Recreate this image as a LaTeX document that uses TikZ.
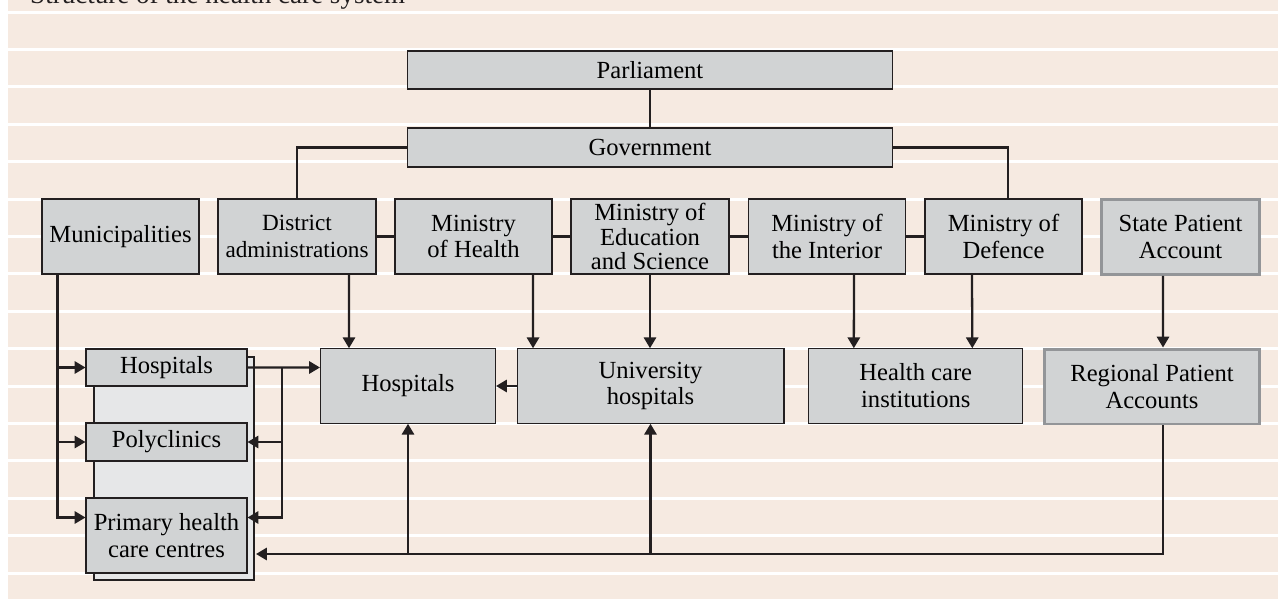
\documentclass[tikz,border=0pt]{standalone}
\usepackage{fontspec}
\setmainfont{Liberation Serif}
\usetikzlibrary{arrows.meta}
\definecolor{bgbeige}{HTML}{F6EAE1}
\definecolor{boxgray}{HTML}{D1D3D4}
\definecolor{panelgray}{HTML}{E6E7E8}
\definecolor{inkdark}{HTML}{231F20}
\definecolor{accgray}{HTML}{939598}
\begin{document}
\begin{tikzpicture}[x=0.02cm, y=-0.02cm,
  box/.style={draw=inkdark, line width=0.6pt, fill=boxgray, align=center, inner sep=0pt,
    font=\fontsize{14}{15.3}\selectfont},
  accbox/.style={box, draw=accgray, line width=1.7pt},
  link/.style={draw=inkdark, line width=1.3pt},
  arr/.style={link, -{Triangle[length=6.2pt, width=7pt]}}]
\useasboundingbox (0,0) rectangle (1278,599);
\fill[bgbeige] (8,0) rectangle (1278,599);
\foreach \k in {0,...,15}{
  \pgfmathsetmacro{\yy}{12+37.4*\k}
  \draw[white, line width=0.06cm] (8,\yy) -- (1278,\yy);
}
\node[anchor=base west, font=\fontsize{15.4}{17}\selectfont, text=inkdark] (title) at (24,3.5) {Structure of the health care system};
\node[box, minimum width=9.72cm, minimum height=0.76cm] (parl) at (650,70) {Parliament};
\node[box, minimum width=9.72cm, minimum height=0.78cm] (gov) at (650,147.5) {Government};
\node[box, minimum width=3.14cm, minimum height=1.5cm] (muni) at (120.5,236.5) {Municipalities};
\node[box, minimum width=3.16cm, minimum height=1.5cm, font=\fontsize{13.2}{15.3}\selectfont] (dist) at (297,236.5) {District\\administrations};
\node[box, minimum width=3.14cm, minimum height=1.5cm] (moh) at (473.5,236.5) {Ministry\\of Health};
\node[box, minimum width=3.16cm, minimum height=1.5cm, font=\fontsize{14}{13.8}\selectfont] (mes) at (650,236.5) {Ministry of\\Education\\and Science};
\node[box, minimum width=3.14cm, minimum height=1.5cm] (moi) at (827,236.5) {Ministry of\\the Interior};
\node[box, minimum width=3.14cm, minimum height=1.5cm] (mod) at (1003.5,236.5) {Ministry of\\Defence};
\node[accbox, minimum width=3.16cm, minimum height=1.5cm] (spa) at (1180.5,237) {State Patient\\Account};
\draw[draw=inkdark, line width=0.6pt, fill=panelgray] (94,357) rectangle (254,580);
\node[box, minimum width=3.22cm, minimum height=0.74cm] (hospL) at (166.5,367.5) {Hospitals};
\node[box, minimum width=3.22cm, minimum height=0.76cm] (poly) at (166.5,442) {Polyclinics};
\node[box, minimum width=3.22cm, minimum height=1.5cm] (phc) at (166.5,535.5) {Primary health\\care centres};
\node[box, minimum width=3.5cm, minimum height=1.49cm] (hosp) at (408,386) {Hospitals};
\node[box, minimum width=5.34cm, minimum height=1.49cm] (uni) at (650.5,386) {University\\hospitals};
\node[box, minimum width=4.28cm, minimum height=1.49cm] (hci) at (915.8,386) {Health care\\institutions};
\node[accbox, minimum width=4.3cm, minimum height=1.5cm] (rpa) at (1152,386.5) {Regional Patient\\Accounts};
\draw[link] (parl) -- (gov);
\draw[link] (gov.west) -| (dist.north);
\draw[link] (gov.east) -| ([xshift=0.09cm]mod.north);
\draw[link] (dist) -- (moh);
\draw[link] (moh) -- (mes);
\draw[link] (mes) -- (moi);
\draw[link] (moi) -- (mod);
\draw[arr] ([xshift=1.04cm]dist.south) -- ([xshift=-1.18cm]hosp.north);
\draw[arr] ([xshift=1.19cm]moh.south) -- ([xshift=-2.35cm]uni.north);
\draw[arr] (mes.south) -- (mes.south |- uni.north);
\draw[arr] ([xshift=0.54cm]moi.south) -- ([xshift=-1.24cm]hci.north);
\draw[arr] ([xshift=-0.63cm]mod.south) -- ([xshift=1.13cm]hci.north);
\draw[arr] ([xshift=-0.35cm]spa.south) -- ([xshift=0.22cm]rpa.north);
\draw[arr] (uni.west) -- (hosp.east);
\coordinate (mtop) at ([xshift=-1.26cm]muni.south);
\draw[arr] (mtop) |- ([yshift=0.36cm]phc.west);
\draw[arr] (mtop |- hospL.west) -- (hospL.west);
\draw[arr] (mtop |- poly.west) -- (poly.west);
\draw[arr] (hospL.east) -- ([yshift=0.37cm]hosp.west);
\coordinate (htop) at (282,367.5);
\draw[arr] (htop) |- ([yshift=0.36cm]phc.east);
\draw[arr] (htop |- poly.east) -- (poly.east);
\coordinate (bus) at (256,554);
\draw[arr] ([xshift=0.22cm]rpa.south) |- (bus);
\draw[arr] (hosp.south |- bus) -- (hosp.south);
\draw[arr] (uni.south |- bus) -- (uni.south);
\end{tikzpicture}
\end{document}
